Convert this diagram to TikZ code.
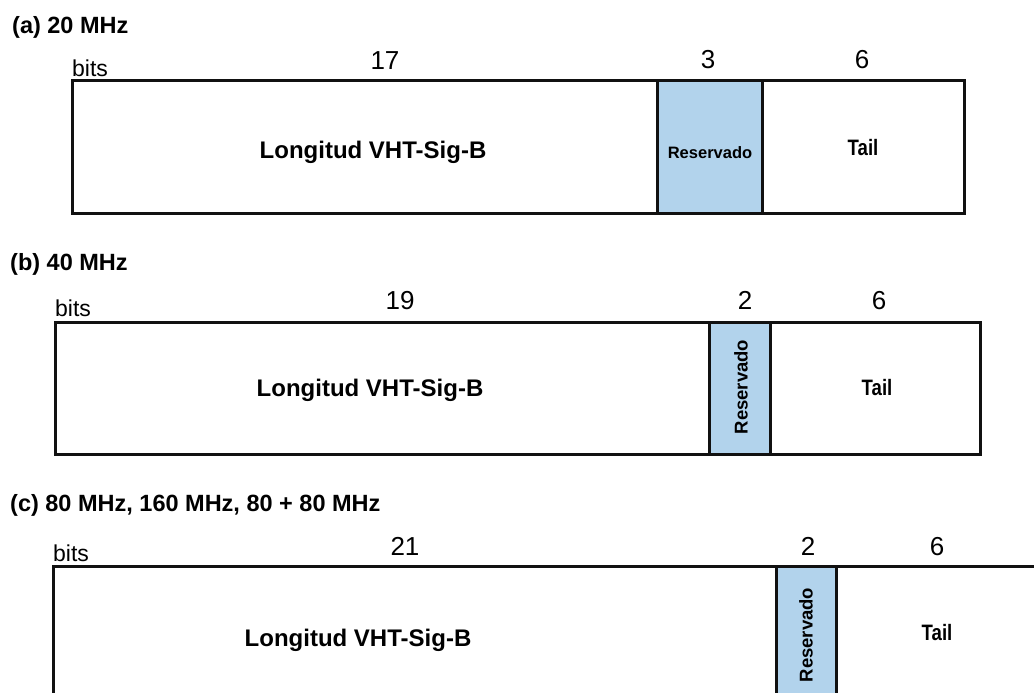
\documentclass[tikz,border=0pt]{standalone}
\usepackage{fontspec}
\setmainfont{Liberation Sans}
\definecolor{Frame}{HTML}{111111}
\definecolor{ResvBlue}{HTML}{B2D3EC}
\tikzset{field/.style={draw=Frame,line width=3pt,fill=white},resv/.style={draw=Frame,line width=3pt,fill=ResvBlue},caption/.style={anchor=base west,inner sep=0pt,font=\bfseries\fontsize{23.5}{28}\selectfont},bitlabel/.style={anchor=base west,inner sep=0pt,font=\fontsize{23}{28}\selectfont},bitcount/.style={anchor=base,inner sep=0pt,font=\fontsize{26}{30}\selectfont},fieldname/.style={anchor=base,inner sep=0pt,font=\bfseries\fontsize{24}{28}\selectfont},tailname/.style={anchor=base,inner sep=0pt,yscale=1.2,font=\bfseries\fontsize{18.6}{24}\selectfont},resvname/.style={inner sep=0pt,font=\bfseries\fontsize{16.5}{20}\selectfont},resvup/.style={inner sep=0pt,rotate=90,font=\bfseries\fontsize{18.5}{22}\selectfont}}

\begin{document}
\begin{tikzpicture}[x=1pt,y=-1pt]
\useasboundingbox (0,0) rectangle (1034,693);
\clip (0,0) rectangle (1034,693);
\fill[white] (0,0) rectangle (1034,693);
% (a) 20 MHz
\node[caption] (capA) at (12,34) {(a) 20 MHz};
\node[bitlabel] (bitsA) at (72,77) {bits};
\draw[field] (72,81) rectangle (964,213);
\draw[resv] (657,81) rectangle (762,213);
\node[bitcount] (nA1) at (385,70) {17};
\node[bitcount] (nA2) at (708,69) {3};
\node[bitcount] (nA3) at (862,69) {6};
\node[fieldname] (lenA) at (373,158) {Longitud VHT-Sig-B};
\node[resvname,anchor=base] (resA) at (710,158) {Reservado};
\node[tailname] (tailA) at (863,155) {Tail};
% (b) 40 MHz
\node[caption] (capB) at (10,270) {(b) 40 MHz};
\node[bitlabel] (bitsB) at (55,316) {bits};
\draw[field] (55,322) rectangle (980,454);
\draw[resv] (709,322) rectangle (770,454);
\node[bitcount] (nB1) at (400,309) {19};
\node[bitcount] (nB2) at (745,309) {2};
\node[bitcount] (nB3) at (879,309) {6};
\node[fieldname] (lenB) at (370,396) {Longitud VHT-Sig-B};
\node[resvup] (resB) at (741,387) {Reservado};
\node[tailname] (tailB) at (877,395) {Tail};
% (c) 80 MHz, 160 MHz, 80 + 80 MHz
\node[caption] (capC) at (10,511) {(c) 80 MHz, 160 MHz, 80 + 80 MHz};
\node[bitlabel] (bitsC) at (53,561) {bits};
\draw[field] (53,566) rectangle (1050,700);
\draw[resv] (776,566) rectangle (836,700);
\node[bitcount] (nC1) at (405,555) {21};
\node[bitcount] (nC2) at (808,555) {2};
\node[bitcount] (nC3) at (937,555) {6};
\node[fieldname] (lenC) at (358,646) {Longitud VHT-Sig-B};
\node[resvup] (resC) at (806,635) {Reservado};
\node[tailname] (tailC) at (937,640) {Tail};
\end{tikzpicture}
\end{document}
